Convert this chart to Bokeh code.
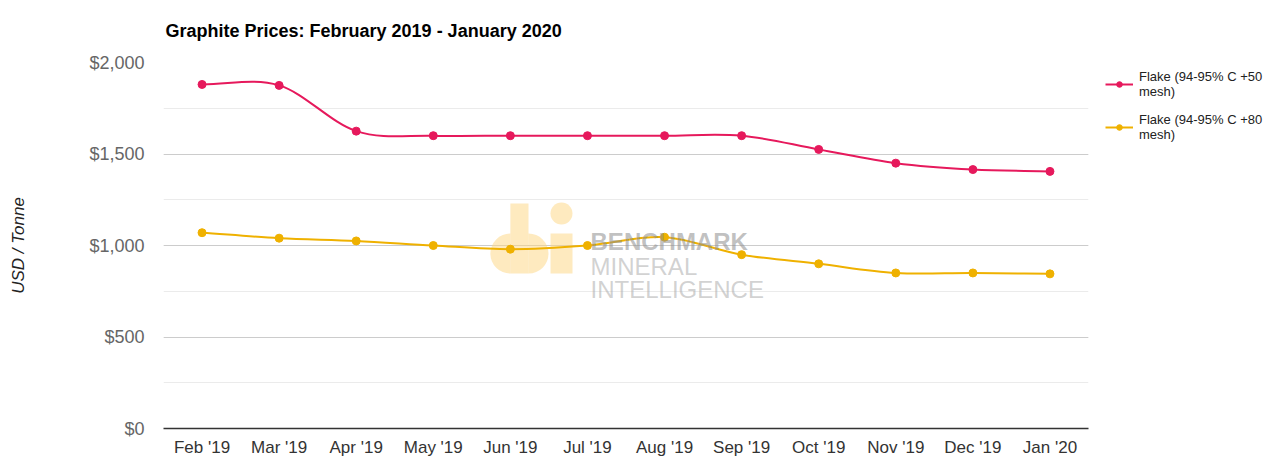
from bokeh.plotting import figure
from bokeh.models import (ColumnDataSource, Legend, LegendItem, NumeralTickFormatter,
                          SingleIntervalTicker, FixedTicker, Label)
from bokeh.embed import file_html
from bokeh.resources import INLINE

months = ["Feb '19", "Mar '19", "Apr '19", "May '19", "Jun '19", "Jul '19",
          "Aug '19", "Sep '19", "Oct '19", "Nov '19", "Dec '19", "Jan '20"]
flake_50 = [1880, 1875, 1625, 1600, 1600, 1600, 1600, 1600, 1525, 1450, 1415, 1405]
flake_80 = [1070, 1040, 1025, 1000, 980, 1000, 1045, 950, 900, 850, 850, 845]
series_names = ["Flake (94-95% C +50\nmesh)", "Flake (94-95% C +80\nmesh)"]
series_colors = ["#E6195C", "#EFB100"]
watermark_lines = ["BENCHMARK", "MINERAL", "INTELLIGENCE"]

FONT = "Liberation Sans"
FW, FH = 925, 366

p = figure(frame_width=FW, frame_height=FH, output_backend="svg", toolbar_location=None,
           x_range=(-0.5, len(months) - 0.5), y_range=(0, 2000),
           min_border_left=163, min_border_right=175, min_border_top=61,
           min_border_bottom=22)
p.outline_line_color = None
p.background_fill_color = "white"
p.border_fill_color = "white"

p.title.text = "Graphite Prices: February 2019 - January 2020"
p.title.text_font = FONT
p.title.text_font_size = "18px"
p.title.text_font_style = "bold"
p.title.text_color = "#000000"
p.title.offset = 2
p.title.standoff = 40
p.title.vertical_align = "top"


def bezier_segments(ys):
    n = len(ys)
    xs = list(range(n))
    m = []
    for i in range(n):
        if i == 0:
            m.append(ys[1] - ys[0])
        elif i == n - 1:
            m.append(ys[-1] - ys[-2])
        else:
            m.append((ys[i + 1] - ys[i - 1]) / 2)
    d = dict(x0=[], y0=[], x1=[], y1=[], cx0=[], cy0=[], cx1=[], cy1=[])
    for i in range(n - 1):
        d["x0"].append(xs[i]); d["y0"].append(ys[i])
        d["x1"].append(xs[i + 1]); d["y1"].append(ys[i + 1])
        d["cx0"].append(xs[i] + 1 / 3); d["cy0"].append(ys[i] + m[i] / 3)
        d["cx1"].append(xs[i + 1] - 1 / 3); d["cy1"].append(ys[i + 1] - m[i + 1] / 3)
    return ColumnDataSource(d)


# Watermark (decorative logo + text)
wm_color = "#FDD680"
wm_alpha = 0.5
p.quad(left=[4.00, 4.521], right=[4.235, 4.806], bottom=[847, 847], top=[1230, 1066],
       fill_color=wm_color, fill_alpha=wm_alpha, line_color=None)
p.wedge(x=[4.00], y=[956], radius=20, radius_units="screen", start_angle=1.5708,
        end_angle=4.7124, fill_color=wm_color, fill_alpha=wm_alpha, line_color=None)
p.wedge(x=[4.235], y=[956], radius=20, radius_units="screen", start_angle=-1.5708,
        end_angle=1.5708, fill_color=wm_color, fill_alpha=wm_alpha, line_color=None)
p.scatter(x=[4.663], y=[1175], size=22, fill_color=wm_color, fill_alpha=wm_alpha,
          line_color=None)
for txt, yy, style, col in zip(watermark_lines, [1022, 885, 760],
                               ["bold", "normal", "normal"],
                               ["#8C8C8C", "#ABABAB", "#ABABAB"]):
    p.add_layout(Label(x=5.04, y=yy, text=txt, text_font=FONT, text_font_size="24px",
                       text_font_style=style, text_color=col, text_alpha=0.55,
                       text_baseline="middle"))

items = []
for ys, name, col in zip([flake_50, flake_80], series_names, series_colors):
    src = bezier_segments(ys)
    p.bezier(x0="x0", y0="y0", x1="x1", y1="y1", cx0="cx0", cy0="cy0",
             cx1="cx1", cy1="cy1", source=src, line_color=col, line_width=2)
    r2 = p.scatter(x=list(range(len(months))), y=ys, size=8, fill_color=col,
                   line_color=col)
    r3 = p.line(x=[0, 0], y=[ys[0], ys[0]], line_color=col, line_width=2)
    items.append(LegendItem(label=name, renderers=[r3, r2]))

legend = Legend(items=items, location=(17, FH - 84))
legend.label_text_font = FONT
legend.label_text_font_size = "13px"
legend.label_text_line_height = 1.5
legend.label_text_color = "#222222"
legend.border_line_color = None
legend.background_fill_alpha = 0
legend.margin = 0
legend.padding = 0
legend.spacing = 4
legend.glyph_width = 28
legend.label_standoff = 6
legend.label_height = 39
legend.glyph_height = 14
p.add_layout(legend, "right")

# Axes
p.xaxis.ticker = FixedTicker(ticks=list(range(len(months))))
p.xaxis.major_label_overrides = {i: m for i, m in enumerate(months)}
p.xaxis.major_label_text_font = FONT
p.xaxis.major_label_text_font_size = "17px"
p.xaxis.major_label_text_color = "#333333"
p.xaxis.major_tick_line_color = None
p.xaxis.minor_tick_line_color = None
p.xaxis.axis_line_color = "#333333"
p.xaxis.axis_line_width = 1.5
p.xaxis.major_label_standoff = 3
p.xgrid.grid_line_color = None

p.yaxis.ticker = SingleIntervalTicker(interval=500, num_minor_ticks=2)
p.yaxis.formatter = NumeralTickFormatter(format="$0,0")
p.yaxis.major_label_text_font = FONT
p.yaxis.major_label_text_font_size = "18px"
p.yaxis.major_label_text_color = "#666666"
p.yaxis.major_tick_line_color = None
p.yaxis.minor_tick_line_color = None
p.yaxis.axis_line_color = None
p.yaxis.major_label_standoff = 13
p.yaxis.axis_label = "USD / Tonne"
p.yaxis.axis_label_text_font = FONT
p.yaxis.axis_label_text_font_size = "17px"
p.yaxis.axis_label_text_font_style = "italic"
p.yaxis.axis_label_text_color = "#222222"
p.yaxis.axis_label_standoff = 58
p.ygrid.grid_line_color = "#CCCCCC"
p.ygrid.minor_grid_line_color = "#EBEBEB"

open("out.html", "w").write(file_html(p, INLINE))
